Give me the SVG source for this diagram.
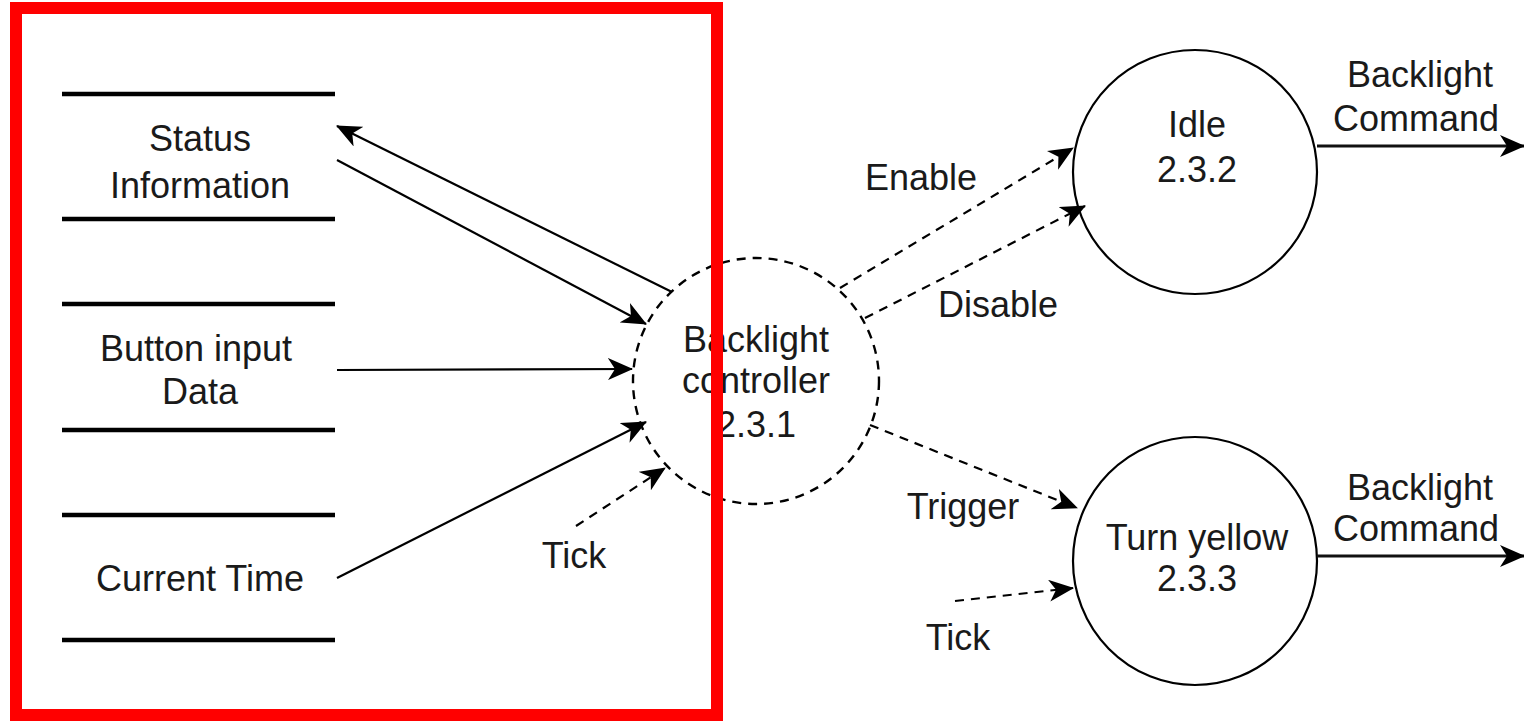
<svg xmlns="http://www.w3.org/2000/svg" width="1524" height="723" viewBox="0 0 1524 723">
<style>
text{font-family:"Liberation Sans",Arial,sans-serif;font-size:36px;fill:#1a1a1a;text-anchor:middle}
.store{stroke:#000;stroke-width:4.5}
.flow{stroke:#000;stroke-width:2.2;fill:none}
.dash{stroke:#000;stroke-width:2.2;fill:none;stroke-dasharray:9 7}
.out{stroke:#111;stroke-width:3.2;fill:none}
.proc{fill:#fff;stroke:#000;stroke-width:2.2}
</style>
<defs>
<marker id="ah" markerUnits="userSpaceOnUse" markerWidth="28" markerHeight="22" refX="24" refY="11" orient="auto">
<path d="M0,0 L25,11 L0,22 L7,11 Z" fill="#000"/>
</marker>
</defs>
<g id="store-status">
<line class="store" x1="62" y1="94" x2="335" y2="94"/>
<line class="store" x1="62" y1="219" x2="335" y2="219"/>
<text x="200" y="151">Status</text>
<text x="200" y="198">Information</text>
</g>
<g id="store-button">
<line class="store" x1="62" y1="304" x2="335" y2="304"/>
<line class="store" x1="62" y1="430" x2="335" y2="430"/>
<text x="196" y="361">Button input</text>
<text x="200" y="404">Data</text>
</g>
<g id="store-time">
<line class="store" x1="62" y1="515" x2="335" y2="515"/>
<line class="store" x1="62" y1="640" x2="335" y2="640"/>
<text x="200" y="591">Current Time</text>
</g>
<g id="controller">
<circle cx="756" cy="381" r="123" fill="none" stroke="#000" stroke-width="2.4" stroke-dasharray="9 7"/>
<text x="756" y="352">Backlight</text>
<text x="756" y="393">controller</text>
<text x="756" y="437">2.3.1</text>
</g>
<g id="idle">
<circle class="proc" cx="1195" cy="172" r="122"/>
<text x="1197" y="137">Idle</text>
<text x="1197" y="182">2.3.2</text>
</g>
<g id="yellow">
<ellipse class="proc" cx="1195" cy="561" rx="122" ry="124"/>
<text x="1197" y="550">Turn yellow</text>
<text x="1197" y="591">2.3.3</text>
</g>
<g id="connectors">
<line class="flow" x1="672" y1="292" x2="337" y2="126" marker-end="url(#ah)"/>
<line class="flow" x1="337" y1="160" x2="646" y2="324" marker-end="url(#ah)"/>
<line class="flow" x1="337" y1="370" x2="632" y2="369" marker-end="url(#ah)"/>
<line class="flow" x1="337" y1="578" x2="646" y2="422" marker-end="url(#ah)"/>
<line class="dash" x1="576" y1="526" x2="665" y2="468" marker-end="url(#ah)"/>
<line class="dash" x1="840" y1="288" x2="1073" y2="148" marker-end="url(#ah)"/>
<line class="dash" x1="865" y1="318" x2="1085" y2="206" marker-end="url(#ah)"/>
<line class="dash" x1="870" y1="425" x2="1077" y2="508" marker-end="url(#ah)"/>
<line class="dash" x1="955" y1="601" x2="1073" y2="588" marker-end="url(#ah)"/>
<line class="out" x1="1317" y1="146" x2="1524" y2="146" marker-end="url(#ah)"/>
<line class="out" x1="1317" y1="556" x2="1524" y2="556" marker-end="url(#ah)"/>
</g>
<g id="labels">
<text x="921" y="190">Enable</text>
<text x="998" y="317">Disable</text>
<text x="963" y="519">Trigger</text>
<text x="958" y="650">Tick</text>
<text x="574" y="568">Tick</text>
<text x="1420" y="87">Backlight</text>
<text x="1416" y="131">Command</text>
<text x="1420" y="500">Backlight</text>
<text x="1416" y="541">Command</text>
</g>
<rect x="16" y="8" width="701" height="707" fill="none" stroke="#ff0000" stroke-width="12"/>
</svg>
